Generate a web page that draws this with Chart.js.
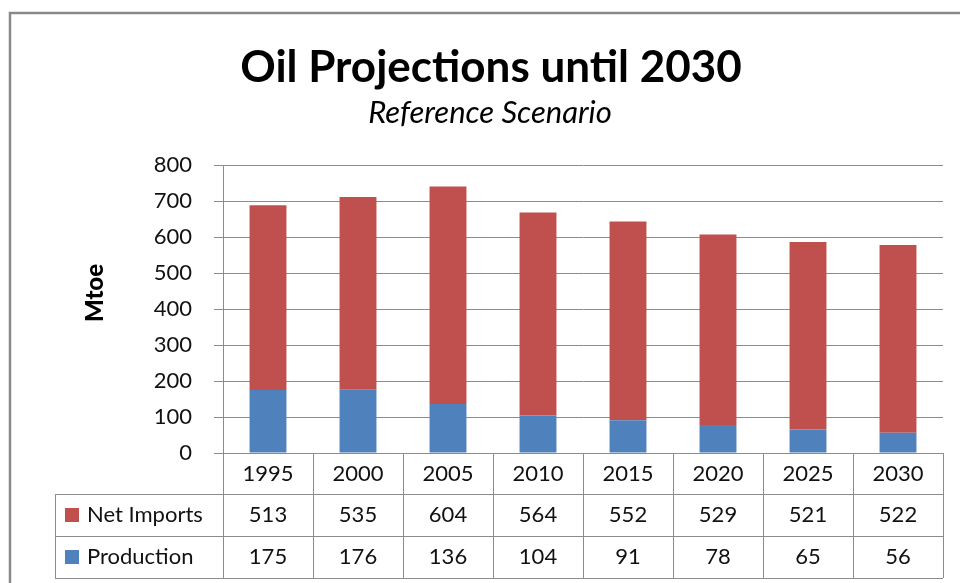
<!DOCTYPE html>
<html>
<head>
<meta charset="utf-8">
<script src="https://cdn.jsdelivr.net/npm/chart.js@4/dist/chart.umd.min.js"></script>
<style>
  html, body { margin: 0; padding: 0; background: #fff; }
  #wrap { width: 960px; height: 583px; position: relative; }
</style>
</head>
<body>
<div id="wrap"><canvas id="oil-chart" width="960" height="583"></canvas></div>
<script>
const years = ['1995', '2000', '2005', '2010', '2015', '2020', '2025', '2030'];
const netImports = [513, 535, 604, 564, 552, 529, 521, 522];
const production = [175, 176, 136, 104, 91, 78, 65, 56];
const yTicks = [0, 100, 200, 300, 400, 500, 600, 700, 800];

const FONT = 'Lato, "Open Sans", sans-serif';
const LINE = '#8c8c8c';

// title, axis title, frame and the data table under the plot
const decorations = {
    id: 'decorations',
    afterDraw(chart) {
        const ctx = chart.ctx;
        const x = chart.scales.x;
        const area = chart.chartArea;
        const step = x.width / years.length;
        ctx.save();

        // frame
        ctx.strokeStyle = '#8a8a8a';
        ctx.lineWidth = 2.5;
        ctx.beginPath();
        ctx.moveTo(10, 583);
        ctx.lineTo(10, 13);
        ctx.lineTo(960, 13);
        ctx.stroke();

        // titles
        ctx.fillStyle = '#000';
        ctx.textAlign = 'center';
        ctx.textBaseline = 'alphabetic';
        ctx.font = 'bold 44px ' + FONT;
        ctx.fillText('Oil Projections until 2030', 491, 82);
        ctx.font = 'italic 31px ' + FONT;
        ctx.fillText('Reference Scenario', 490, 123);

        // y axis title
        ctx.save();
        ctx.translate(95, 293);
        ctx.rotate(-Math.PI / 2);
        ctx.font = '900 24px ' + FONT;
        ctx.textBaseline = 'middle';
        ctx.fillText('Mtoe', 0, 0);
        ctx.restore();

        // table grid
        const rowTop = area.bottom;
        const rows = [rowTop, rowTop + 41, rowTop + 83, rowTop + 125];
        ctx.strokeStyle = LINE;
        ctx.lineWidth = 1;
        ctx.beginPath();
        for (let r = 1; r < rows.length; r++) {
            ctx.moveTo(55, rows[r] + 0.5);
            ctx.lineTo(area.right, rows[r] + 0.5);
        }
        ctx.moveTo(55.5, rows[1]);
        ctx.lineTo(55.5, rows[3]);
        for (let i = 0; i <= years.length; i++) {
            const px = Math.round(area.left + i * step) + 0.5;
            ctx.moveTo(px, rows[0]);
            ctx.lineTo(px, rows[3]);
        }
        ctx.stroke();

        // table text
        ctx.font = '22px ' + FONT;
        ctx.textAlign = 'center';
        ctx.textBaseline = 'middle';
        ctx.fillStyle = '#111';
        years.forEach((yr, i) => {
            const cx = x.getPixelForValue(i);
            ctx.fillText(yr, cx, (rows[0] + rows[1]) / 2);
            ctx.fillText(String(netImports[i]), cx, (rows[1] + rows[2]) / 2);
            ctx.fillText(String(production[i]), cx, (rows[2] + rows[3]) / 2);
        });

        // legend keys in the table
        const series = [
            { label: 'Net Imports', color: '#C0504D', y: (rows[1] + rows[2]) / 2 },
            { label: 'Production', color: '#4F81BD', y: (rows[2] + rows[3]) / 2 },
        ];
        ctx.textAlign = 'left';
        series.forEach((s) => {
            ctx.fillStyle = s.color;
            ctx.fillRect(65, s.y - 7, 14, 14);
            ctx.fillStyle = '#111';
            ctx.fillText(s.label, 87, s.y);
        });
        ctx.restore();
    },
};

new Chart(document.getElementById('oil-chart'), {
    type: 'bar',
    data: {
        labels: years,
        datasets: [
            {
                label: 'Production',
                data: production,
                backgroundColor: '#4F81BD',
                borderWidth: 0,
                categoryPercentage: 1,
                barPercentage: 0.41,
            },
            {
                label: 'Net Imports',
                data: netImports,
                backgroundColor: '#C0504D',
                borderWidth: 0,
                categoryPercentage: 1,
                barPercentage: 0.41,
            },
        ],
    },
    options: {
        responsive: false,
        animation: false,
        layout: { padding: { top: 165, right: 17, bottom: 130, left: 0 } },
        plugins: {
            legend: { display: false },
            tooltip: { enabled: false },
        },
        scales: {
            x: {
                stacked: true,
                display: false,
            },
            y: {
                stacked: true,
                min: 0,
                max: 800,
                afterFit(scale) { scale.width = 223; },
                afterBuildTicks(scale) { scale.ticks = yTicks.map((v) => ({ value: v })); },
                grid: { color: LINE, tickLength: 9, tickColor: LINE },
                border: { color: LINE },
                ticks: {
                    padding: 22,
                    color: '#111',
                    font: { family: FONT, size: 22 },
                },
            },
        },
    },
    plugins: [decorations],
});
</script>
</body>
</html>
